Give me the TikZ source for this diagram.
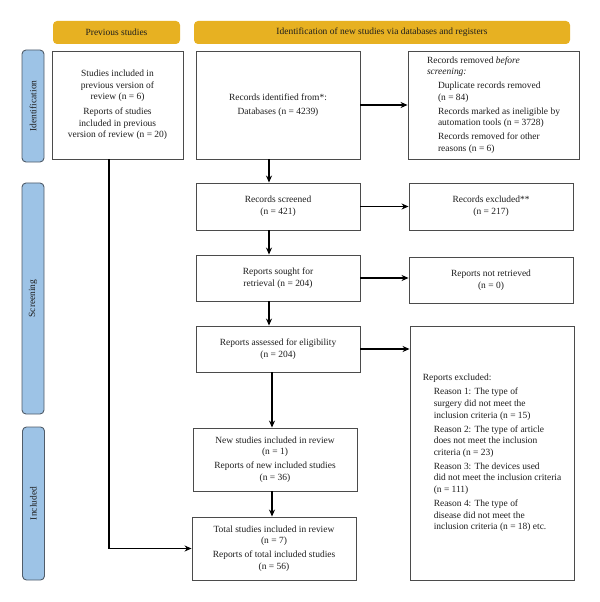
\documentclass[tikz,border=0pt]{standalone}
\usepackage{fontspec}
\setmainfont{Liberation Serif}
\usetikzlibrary{arrows.meta}
\definecolor{gold}{RGB}{231,177,34}
\definecolor{sideblue}{RGB}{157,195,230}
\definecolor{sideedge}{RGB}{80,92,105}
\definecolor{boxedge}{RGB}{75,75,75}
\definecolor{txt}{RGB}{30,30,30}
\begin{document}
\begin{tikzpicture}[x=1bp,y=-1bp,
  every node/.style={font=\fontsize{9.5}{11.6}\selectfont, text=txt},
  box/.style={draw=boxedge, line width=0.9bp, fill=white, align=center, inner sep=0pt},
  lbox/.style={box, align=left},
  hdr/.style={fill=gold, rounded corners=4bp, inner sep=0pt, minimum height=23bp},
  side/.style={fill=sideblue, draw=sideedge, line width=0.9bp, rounded corners=4bp, inner sep=0pt, minimum height=22bp, rotate=90},
  arr/.style={-{Stealth[length=7bp,width=6bp]}, line width=1.1bp, draw=black},
]
\path[use as bounding box] (0,0) rectangle (600,602);

% headers
\node[hdr, minimum width=127bp] (hprev) at (116.5,32.5) {Previous studies};
\node[hdr, minimum width=376bp] (hnew) at (382,32.5) {Identification of new studies via databases and registers};

% side labels
\node[side, minimum width=112bp] (sid) at (33,106) {Identification};
\node[side, minimum width=231bp] (sscr) at (33,298.5) {Screening};
\node[side, minimum width=153bp] (sinc) at (33.5,503.5) {Included};

% boxes
\node[box, minimum width=131bp, minimum height=108bp] (prev) at (117.5,105)
  {Studies included in\\previous version of\\review (n = 6)\\[3bp]Reports of studies\\included in previous\\version of review (n = 20)};
\node[box, minimum width=164bp, minimum height=108bp] (recid) at (278,105)
  {Records identified from*:\\[3bp]Databases (n = 4239)};
\node[lbox, minimum width=171bp, minimum height=108bp] (removed) at (493.5,105)
  {Records removed \textit{before}\\\textit{screening:}\\[2.5bp]
   \hspace*{11bp}Duplicate records removed\\\hspace*{11bp}(n = 84)\\[2.5bp]
   \hspace*{11bp}Records marked as ineligible by\\\hspace*{11bp}automation tools (n = 3728)\\[2.5bp]
   \hspace*{11bp}Records removed for other\\\hspace*{11bp}reasons (n = 6)};
\node[box, minimum width=164bp, minimum height=47bp] (screened) at (278,206.5)
  {Records screened\\(n = 421)};
\node[box, minimum width=164bp, minimum height=47bp] (excluded) at (491,206.5)
  {Records excluded**\\(n = 217)};
\node[box, minimum width=164bp, minimum height=46bp] (sought) at (278,278)
  {Reports sought for\\retrieval (n = 204)};
\node[box, minimum width=164bp, minimum height=46bp] (notret) at (491,280)
  {Reports not retrieved\\(n = 0)};
\node[box, minimum width=164bp, minimum height=46bp] (assessed) at (278,349)
  {Reports assessed for eligibility\\(n = 204)};
\node[lbox, minimum width=164bp, minimum height=254bp] (repexcl) at (492,453)
  {Reports excluded:\\[2.5bp]
   \hspace*{11bp}Reason 1: The type of\\\hspace*{11bp}surgery did not meet the\\\hspace*{11bp}inclusion criteria (n = 15)\\[2.5bp]
   \hspace*{11bp}Reason 2: The type of article\\\hspace*{11bp}does not meet the inclusion\\\hspace*{11bp}criteria (n = 23)\\[2.5bp]
   \hspace*{11bp}Reason 3: The devices used\\\hspace*{11bp}did not meet the inclusion criteria\\\hspace*{11bp}(n = 111)\\[2.5bp]
   \hspace*{11bp}Reason 4: The type of\\\hspace*{11bp}disease did not meet the\\\hspace*{11bp}inclusion criteria (n = 18) etc.};
\node[box, minimum width=164bp, minimum height=63bp] (new) at (275,459.5)
  {New studies included in review\\(n = 1)\\[2.5bp]Reports of new included studies\\(n = 36)};
\node[box, minimum width=164bp, minimum height=63bp] (total) at (274,548.5)
  {Total studies included in review\\(n = 7)\\[2.5bp]Reports of total included studies\\(n = 56)};

% guide coordinates
\coordinate (c1) at (269,0);
\coordinate (c2) at (272,0);
\coordinate (c0) at (109,0);

% arrows
\draw[arr] (recid.east) -- (removed.west);
\draw[arr] (screened.east) -- (excluded.west);
\draw[arr] (sought.east) -- (sought.east -| notret.west);
\draw[arr] (assessed.east) -- (assessed.east -| repexcl.west);
\draw[arr] (recid.south -| c1) -- (screened.north -| c1);
\draw[arr] (screened.south -| c1) -- (sought.north -| c1);
\draw[arr] (sought.south -| c1) -- (assessed.north -| c1);
\draw[arr] (assessed.south -| c2) -- (new.north -| c2);
\draw[arr] (new.south -| c2) -- (total.north -| c2);
\draw[arr] (prev.south -| c0) |- (total.west);
\end{tikzpicture}
\end{document}
